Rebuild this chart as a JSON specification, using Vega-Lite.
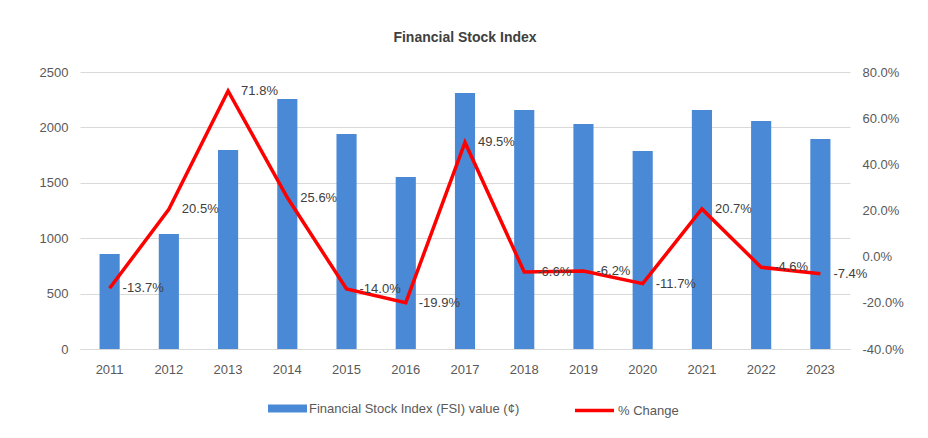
{
  "$schema": "https://vega.github.io/schema/vega-lite/v6.json",
  "autosize": {"type": "none"},
  "width": 770,
  "height": 277,
  "padding": {"left": 80, "top": 72, "right": 78, "bottom": 89},
  "background": "white",
  "title": {"text": "Financial Stock Index", "anchor": "middle", "fontSize": 14, "fontWeight": "bold", "color": "#404040", "font": "Liberation Sans", "offset": 21},
  "config": {
    "locale": {"number": {"decimal": ".", "thousands": ",", "grouping": [3], "currency": ["$", ""], "minus": "-"}},
    "view": {"stroke": null},
    "font": "Liberation Sans",
    "axis": {"labelFont": "Liberation Sans", "labelFontSize": 13, "labelColor": "#595959", "domain": false, "ticks": false, "title": null},
    "legend": {"labelFont": "Liberation Sans", "labelFontSize": 13, "labelColor": "#595959"}
  },
  "data": {"values": [
    {"year": "2011", "fsi": 857, "pct": -0.137},
    {"year": "2012", "fsi": 1038, "pct": 0.205},
    {"year": "2013", "fsi": 1796, "pct": 0.718},
    {"year": "2014", "fsi": 2256, "pct": 0.256},
    {"year": "2015", "fsi": 1940, "pct": -0.140},
    {"year": "2016", "fsi": 1552, "pct": -0.199},
    {"year": "2017", "fsi": 2310, "pct": 0.495},
    {"year": "2018", "fsi": 2157, "pct": -0.066},
    {"year": "2019", "fsi": 2031, "pct": -0.062},
    {"year": "2020", "fsi": 1787, "pct": -0.117},
    {"year": "2021", "fsi": 2157, "pct": 0.207},
    {"year": "2022", "fsi": 2058, "pct": -0.046},
    {"year": "2023", "fsi": 1895, "pct": -0.074}
  ]},
  "encoding": {
    "x": {"field": "year", "type": "ordinal", "scale": {"paddingInner": 0.66, "paddingOuter": 0.33},
          "axis": {"labelAngle": 0, "labelPadding": 14, "grid": false, "domain": true, "domainColor": "#D9D9D9"}}
  },
  "layer": [
    {
      "mark": {"type": "bar", "color": "#4A89D6"},
      "encoding": {
        "y": {"field": "fsi", "type": "quantitative", "scale": {"domain": [0, 2500]},
              "axis": {"orient": "left", "format": "d", "values": [0, 500, 1000, 1500, 2000, 2500], "grid": true, "gridColor": "#D9D9D9", "labelPadding": 12}},
        "color": {"datum": "Financial Stock Index (FSI) value (¢)", "scale": {"range": ["#4A89D6"]},
                  "legend": {"title": null, "orient": "none", "legendX": 188, "legendY": 317, "symbolType": "M-1,-0.2H1V0.2H-1Z", "symbolSize": 1521, "symbolStrokeWidth": 0, "labelLimit": 400, "labelOffset": 2}}
      }
    },
    {
      "encoding": {
        "y": {"field": "pct", "type": "quantitative", "scale": {"domain": [-0.4, 0.8]},
              "axis": {"orient": "right", "format": ".1%", "values": [-0.4, -0.2, 0, 0.2, 0.4, 0.6, 0.8], "grid": false, "labelPadding": 12}}
      },
      "layer": [
        {
          "mark": {"type": "line", "color": "#FF0000", "strokeWidth": 3.5},
          "encoding": {
            "stroke": {"datum": "% Change", "scale": {"range": ["#FF0000"]},
                       "legend": {"title": null, "orient": "none", "legendX": 493, "legendY": 317, "symbolType": "stroke", "symbolSize": 1521, "symbolStrokeWidth": 3.5, "labelOffset": 2}}
          }
        },
        {
          "mark": {"type": "text", "align": "left", "baseline": "middle", "dx": 13, "fontSize": 13, "color": "#404040"},
          "encoding": {
            "text": {"field": "pct", "type": "quantitative", "format": ".1%"}
          }
        }
      ]
    }
  ],
  "resolve": {"scale": {"y": "independent"}}
}
